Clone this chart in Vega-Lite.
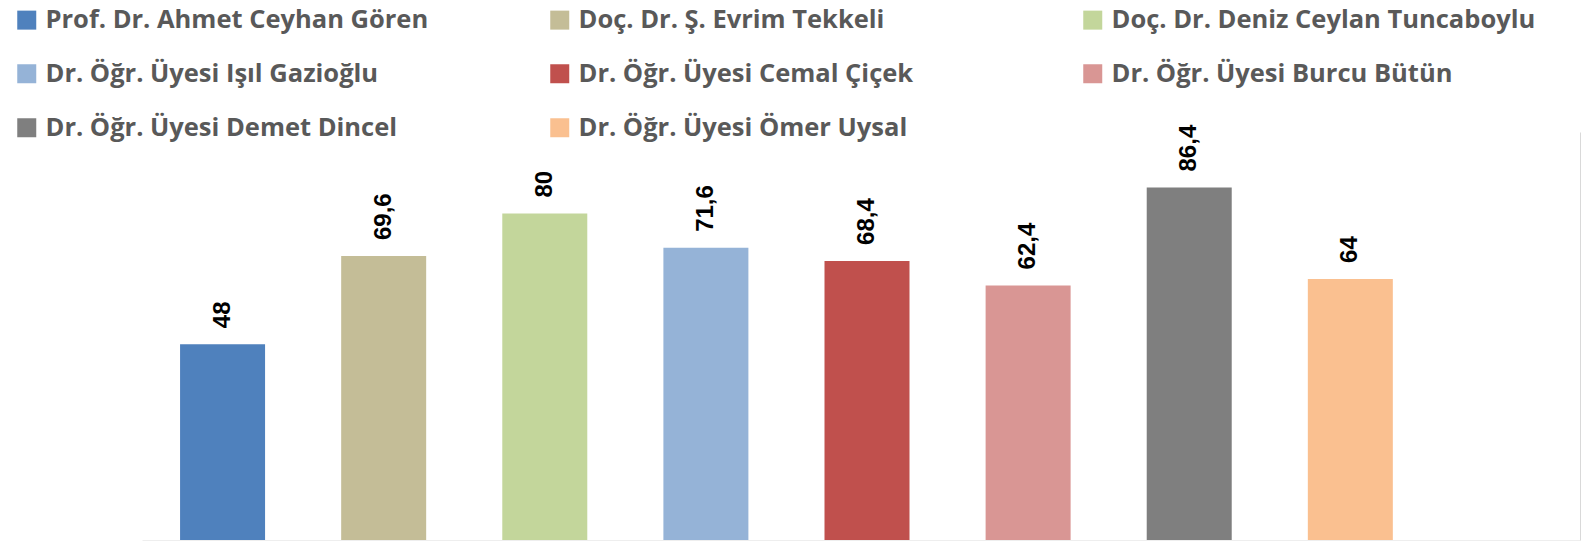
{
  "$schema": "https://vega.github.io/schema/vega-lite/v6.json",
  "width": 1438,
  "height": 408,
  "autosize": {"type": "none"},
  "padding": {"left": 142, "top": 132, "right": 3, "bottom": 1},
  "background": "white",
  "config": {"view": {"stroke": null}},
  "data": {
    "values": [
      {"name": "Prof. Dr. Ahmet Ceyhan Gören", "value": 48, "label": "48"},
      {"name": "Doç. Dr. Ş. Evrim Tekkeli", "value": 69.6, "label": "69,6"},
      {"name": "Doç. Dr. Deniz Ceylan Tuncaboylu", "value": 80, "label": "80"},
      {"name": "Dr. Öğr. Üyesi Işıl Gazioğlu", "value": 71.6, "label": "71,6"},
      {"name": "Dr. Öğr. Üyesi Cemal Çiçek", "value": 68.4, "label": "68,4"},
      {"name": "Dr. Öğr. Üyesi Burcu Bütün", "value": 62.4, "label": "62,4"},
      {"name": "Dr. Öğr. Üyesi Demet Dincel", "value": 86.4, "label": "86,4"},
      {"name": "Dr. Öğr. Üyesi Ömer Uysal", "value": 64, "label": "64"}
    ]
  },
  "encoding": {
    "x": {
      "field": "name",
      "type": "nominal",
      "sort": null,
      "scale": {"paddingInner": 0.4724, "paddingOuter": 0.699, "align": 0.169},
      "axis": {"labels": false, "ticks": false, "title": null, "domainColor": "#eeeeee", "domainWidth": 1}
    },
    "y": {
      "field": "value",
      "type": "quantitative",
      "scale": {"domain": [0, 100]},
      "axis": {"orient": "right", "labels": false, "ticks": false, "grid": false, "title": null, "domainColor": "#d9d9d9", "domainWidth": 1}
    }
  },
  "layer": [
    {
      "mark": {"type": "bar"},
      "encoding": {
        "color": {
          "field": "name",
          "type": "nominal",
          "sort": null,
          "scale": {"range": ["#4F81BD", "#C4BD97", "#C3D69B", "#95B3D7", "#C0504D", "#D99694", "#7F7F7F", "#FAC090"]},
          "legend": {
            "orient": "none",
            "legendX": -128,
            "legendY": -125,
            "direction": "horizontal",
            "columns": 3,
            "gridAlign": "all",
            "columnPadding": 77,
            "rowPadding": 27,
            "padding": 0,
            "title": null,
            "symbolType": "square",
            "symbolSize": 361,
            "symbolStrokeWidth": 0,
            "symbolOffset": 0,
            "labelFont": "Open Sans",
            "labelFontWeight": "bold",
            "labelFontSize": 25.5,
            "labelColor": "#595959",
            "labelOffset": 6,
            "labelLimit": 1000
          }
        }
      }
    },
    {
      "mark": {"type": "text", "angle": 270, "align": "left", "baseline": "middle", "dx": 16, "font": "Liberation Sans", "fontWeight": "bold", "fontSize": 24, "color": "#000000"},
      "encoding": {"text": {"field": "label"}}
    }
  ]
}
